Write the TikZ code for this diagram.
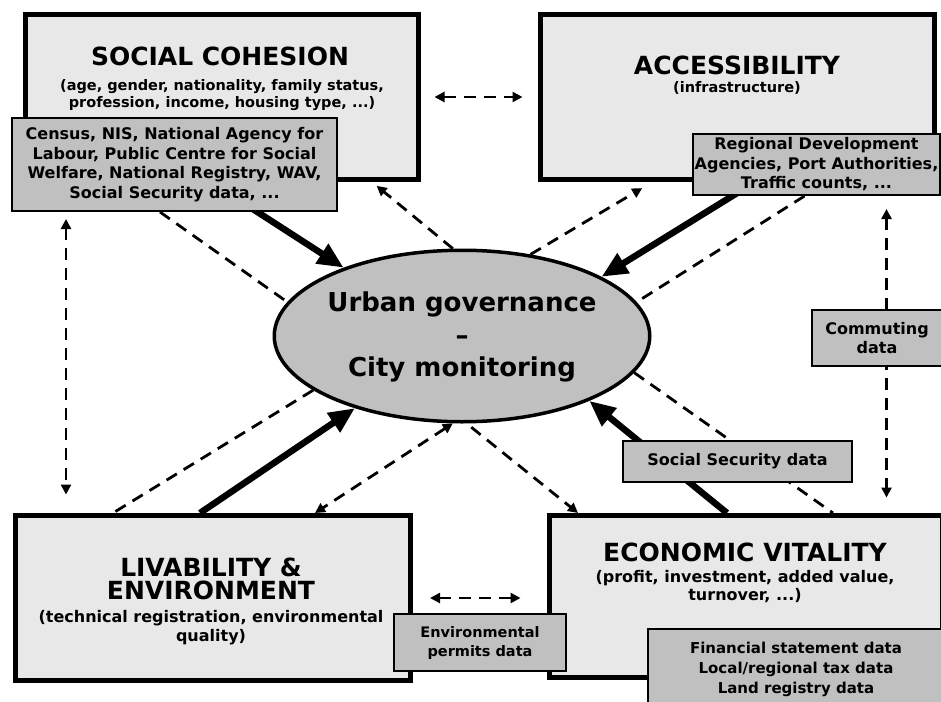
\documentclass[tikz,border=0pt]{standalone}
\usepackage{fontspec}
\setmainfont{DejaVu Sans}
\usepackage{xcolor}
\usetikzlibrary{positioning,arrows.meta,shapes.geometric,calc,backgrounds}
\definecolor{panel}{HTML}{E8E8E8}
\definecolor{chip}{HTML}{C0C0C0}
\tikzset{
  topic/.style={draw, line width=5pt, fill=panel, inner sep=0pt},
  src/.style={draw, line width=2pt, fill=chip, align=center, inner sep=0pt,
    font=\bfseries\fontsize{16}{19.5}\selectfont},
  ttl/.style={align=center, inner sep=0pt, font=\bfseries\fontsize{25}{23}\selectfont},
  sub/.style={align=center, inner sep=0pt, font=\bfseries\fontsize{16}{18.5}\selectfont},
  subsm/.style={sub, font=\bfseries\fontsize{14.5}{16.5}\selectfont},
  feed/.style={line width=6.5pt, -{Triangle[length=26pt,width=22pt]}},
  link/.style={line width=2.8pt, dash pattern=on 12pt off 8pt},
}

\begin{document}
\begin{tikzpicture}[
  x=1pt, y=-1pt,
  >={Triangle[length=10pt,width=10pt]},
  hub/.style={ellipse, draw, line width=3.5pt, fill=chip, inner sep=0pt,
    minimum width=375.5, minimum height=171.5},
  hubtxt/.style={align=center, inner sep=0pt, font=\bfseries\fontsize{26}{32.5}\selectfont},
]
  \useasboundingbox (0,0) rectangle (941,701);

  % the four themes and the hub
  \node[topic, minimum width=393, minimum height=165] (soc) at (222,97) {};
  \node[topic, minimum width=394, minimum height=165] (acc) at (737.5,97) {};
  \node[topic, minimum width=395, minimum height=165] (liv) at (213,598) {};
  \node[topic, minimum width=393, minimum height=162] (eco) at (746,596.5) {};
  \node[hub] (gov) at (462,336) {};

  \node[ttl] (soc-t) at (220,56) {SOCIAL COHESION};
  \node[subsm] (soc-s) at (222,95) {(age, gender, nationality, family status,\\profession, income, housing type, ...)};
  \node[ttl] (acc-t) at (737,65) {ACCESSIBILITY};
  \node[subsm] (acc-s) at (737,88) {(infrastructure)};
  \node[ttl] (liv-t) at (211,578.5) {LIVABILITY \&\\ENVIRONMENT};
  \node[sub] (liv-s) at (211,627.5) {(technical registration, environmental\\quality)};
  \node[ttl] (eco-t) at (745,552) {ECONOMIC VITALITY};
  \node[sub] (eco-s) at (745,586.5) {(profit, investment, added value,\\turnover, ...)};
  \node[hubtxt] (gov-t) at (462,337) {Urban governance\\\textendash\\City monitoring};

  % data sources
  \node[src, minimum width=325, minimum height=93] (census) at (174.5,164.5)
    {Census, NIS, National Agency for\\Labour, Public Centre for Social\\Welfare, National Registry, WAV,\\Social Security data, ...};
  \node[src, minimum width=247, minimum height=61] (regional) at (816.5,164.5)
    {Regional Development\\Agencies, Port Authorities,\\Traffic counts, ...};
  \node[src, minimum width=130, minimum height=56] (commute) at (877,338) {Commuting\\data};
  \node[src, minimum width=229, minimum height=41] (socsec) at (737.5,461.5) {Social Security data};
  \node[src, minimum width=172, minimum height=57, font=\bfseries\fontsize{14.5}{19}\selectfont]
    (permits) at (480,642.5) {Environmental\\permits data};
  \node[src, minimum width=296, minimum height=80, font=\bfseries\fontsize{15}{20}\selectfont]
    (finance) at (796,669) {Financial statement data\\Local/regional tax data\\Land registry data};

  \begin{scope}[on background layer]
    \draw[feed] ([xshift=-11pt]soc.south) -- (gov.150);
    \draw[feed] ([xshift=17.5pt]acc.south) -- (gov.23);
    \draw[feed] ([xshift=-13pt]liv.north) -- (gov.214);
    \draw[feed] ([xshift=-19pt]eco.north) -- (gov.333);

    \draw[link, <->, shorten <=13.5pt, shorten >=15.5pt] (soc.east) -- (acc.west);
    \draw[link, <->, shorten <=17pt, shorten >=26.5pt] (liv.east) -- (liv.east -| eco.west);
    \draw[link, <->, shorten <=7pt, shorten >=18.5pt] ([xshift=-108.5pt]census.south) -- ([xshift=-108.5pt]census.south |- liv.north);
    \draw[link, <->, shorten <=13pt, shorten >=15.5pt] ([xshift=70pt]regional.south) -- ([xshift=70pt]regional.south |- eco.north);

    \draw[link] ([xshift=-14.5pt]census.south) -- (gov.169);
    \draw[link, ->, shorten >=6pt] (gov.96) -- ([xshift=150pt]soc.south);
    \draw[link, ->, shorten >=12pt] (gov.50) -- ([xshift=-85pt]acc.south);
    \draw[link] ([xshift=-12pt]regional.south) -- (gov.11);
    \draw[link] (gov.200) -- ([xshift=-100pt]liv.north);
    \draw[link, <->] (gov.264) -- ([xshift=102pt]liv.north);
    \draw[link, ->, shorten <=6pt] (gov.273) -- ([xshift=-168pt]eco.north);
    \draw[link] (gov.348) -- ([xshift=87pt]eco.north);
  \end{scope}
\end{tikzpicture}
\end{document}
